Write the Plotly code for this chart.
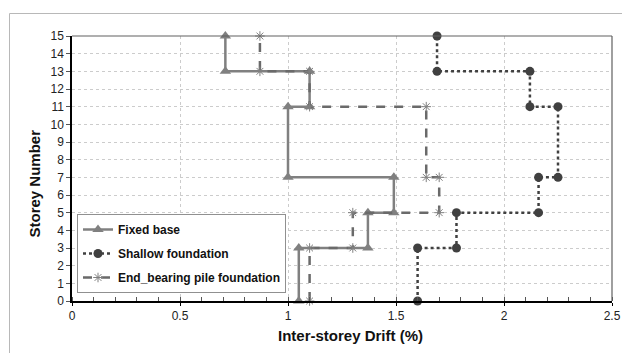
import plotly.graph_objects as go

storeys = [0, 3, 3, 5, 5, 7, 7, 11, 11, 13, 13, 15]
fixed_base = [1.05, 1.05, 1.37, 1.37, 1.49, 1.49, 1.0, 1.0, 1.1, 1.1, 0.71, 0.71]
shallow = [1.6, 1.6, 1.78, 1.78, 2.16, 2.16, 2.25, 2.25, 2.12, 2.12, 1.69, 1.69]
end_bearing = [1.1, 1.1, 1.3, 1.3, 1.7, 1.7, 1.64, 1.64, 1.1, 1.1, 0.87, 0.87]

names = ["Fixed base", "Shallow foundation", "End_bearing pile foundation"]
x_title = "Inter-storey Drift (%)"
y_title = "Storey Number"

fig = go.Figure()
fig.add_trace(go.Scatter(
    x=fixed_base, y=storeys, name=names[0], mode="lines+markers",
    line=dict(color="#808080", width=2.5),
    marker=dict(symbol="triangle-up", size=10, color="#808080"),
    cliponaxis=False, legendgroup="a"))
fig.add_trace(go.Scatter(
    x=shallow, y=storeys, name=names[1], mode="lines+markers",
    line=dict(color="#404040", width=2.5, dash="dot"),
    marker=dict(symbol="circle", size=9, color="#404040"),
    cliponaxis=False, legendgroup="b"))
fig.add_trace(go.Scatter(
    x=end_bearing, y=storeys, name=names[2], mode="lines+markers",
    line=dict(color="#6a6a6a", width=2.5, dash="dash"),
    marker=dict(symbol="asterisk-open", size=8, color="#808080",
                line=dict(color="#808080", width=1)),
    cliponaxis=False, legendgroup="c"))

W, H = 622, 353
L, R, T, B = 72, 10, 36, 52
pw, ph = W - L - R, H - T - B

def px(x):
    return (x - L) / pw

def py(y):
    return (H - B - y) / ph

shapes = [
    dict(type="line", xref="paper", yref="paper", x0=0, x1=1, y0=1, y1=1,
         line=dict(color="#606060", width=1.2)),
    dict(type="line", xref="paper", yref="paper", x0=1, x1=1, y0=0, y1=1,
         line=dict(color="#606060", width=1.2)),
    dict(type="line", xref="paper", yref="paper", x0=px(9.5), x1=px(622), y0=py(13.5), y1=py(13.5),
         line=dict(color="#b8b8b8", width=1)),
    dict(type="line", xref="paper", yref="paper", x0=px(9.5), x1=px(9.5), y0=py(13.5), y1=py(353),
         line=dict(color="#b8b8b8", width=1)),
]

annotations = [
    dict(text=x_title, xref="paper", yref="paper", x=px(350), y=py(335),
         xanchor="center", yanchor="middle", showarrow=False,
         font=dict(size=15, color="#111", weight="bold")),
    dict(text=y_title, xref="paper", yref="paper", x=px(33.5), y=py(184),
         xanchor="center", yanchor="middle", showarrow=False, textangle=-90,
         font=dict(size=15, color="#111", weight="bold")),
]

fig.update_layout(
    width=W, height=H,
    margin=dict(l=L, r=R, t=T, b=B, autoexpand=False),
    paper_bgcolor="white", plot_bgcolor="white",
    font=dict(family="Liberation Sans, Arial, sans-serif", size=12, color="#222"),
    showlegend=True,
    legend=dict(
        x=px(77), y=py(214), xanchor="left", yanchor="top",
        bgcolor="white", bordercolor="#909090", borderwidth=1,
        font=dict(size=12, color="#111", weight="bold"),
        itemwidth=30, tracegroupgap=5, traceorder="grouped",
    ),
    shapes=shapes,
    annotations=annotations,
    xaxis=dict(
        range=[0, 2.5], dtick=0.5, tick0=0, automargin=False,
        showgrid=True, gridcolor="#cccccc", griddash="dot", gridwidth=1,
        showline=True, linecolor="black", linewidth=1.5,
        ticks="outside", ticklen=3, tickcolor="black",
        minor=dict(dtick=0.1, ticks="inside", ticklen=4, tickcolor="#555", showgrid=False),
        zeroline=False,
        tickfont=dict(size=12, color="#222"),
    ),
    yaxis=dict(
        range=[0, 15], dtick=1, tick0=0, automargin=False,
        showgrid=True, gridcolor="#cccccc", griddash="dot", gridwidth=1,
        showline=True, linecolor="black", linewidth=1.5,
        ticks="outside", ticklen=4, tickcolor="#555",
        zeroline=False,
        tickfont=dict(size=12, color="#222"),
    ),
)

fig.write_html(
    "out.html",
    config={"displayModeBar": False},
    post_script="document.body.style.margin='0px';document.body.style.overflow='hidden';",
)
